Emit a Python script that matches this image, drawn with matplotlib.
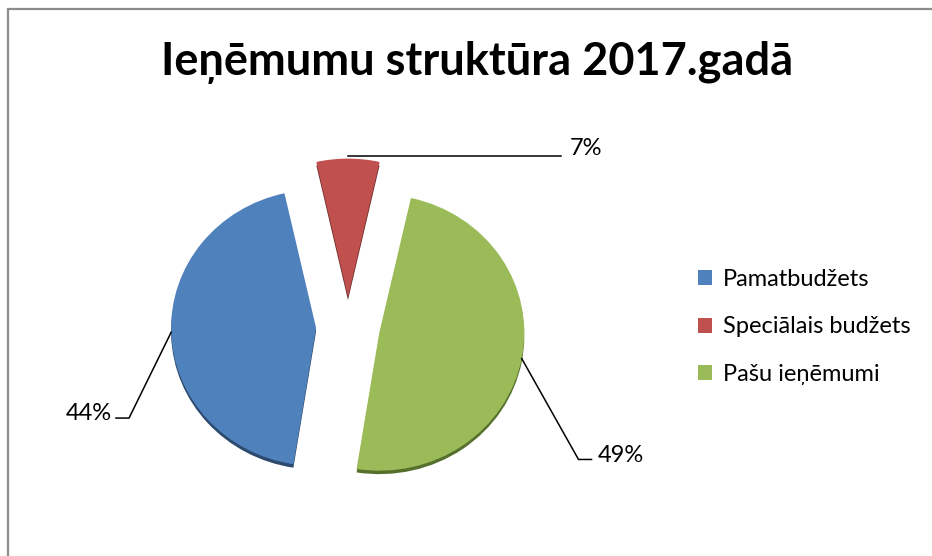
import numpy as np
import matplotlib.pyplot as plt
from matplotlib.patches import Patch, Rectangle

plt.rcParams['font.family'] = ['Lato', 'DejaVu Sans']

TITLE = "Ieņēmumu struktūra 2017.gadā"
categories = ["Pamatbudžets", "Speciālais budžets", "Pašu ieņēmumi"]
shares = [44, 7, 49]
colors = ["#4F81BD", "#C0504D", "#9BBB59"]
depth_colors = ["#2c4a6e", "#6e2b29", "#55702c"]
explode = [0.22, 0.22, 0.22]
START = 261

# where the percentage labels sit (data units of the pie axes)
label_pos = [(-1.63, -0.63), (1.53, 1.29), (1.72, -0.93)]
label_ha = ["right", "left", "left"]

fig = plt.figure(figsize=(9.32, 5.56), dpi=100)

# chart border (cut off at the right and bottom like the screenshot)
fig.patches.append(Rectangle((8 / 932, -0.1), 1.2, 1 - 9 / 556 + 0.1,
                             transform=fig.transFigure, fill=False,
                             edgecolor="#8c8c8c", linewidth=1.6))

fig.text(0.512, 0.888, TITLE, ha="center", va="center",
         fontsize=32.5, fontweight="bold", color="black")

ax = fig.add_axes([0.140, 0.0396, 0.4667, 0.7446])
ax.axis("off")

# thin dark rim below for the 3D look
ax.pie(shares, colors=depth_colors, explode=explode, startangle=START,
       counterclock=False, center=(0, -0.025), radius=1,
       wedgeprops=dict(linewidth=0))
wedges, _ = ax.pie(shares, colors=colors, explode=explode, startangle=START,
                   counterclock=False, radius=1,
                   wedgeprops=dict(linewidth=0))
ax.set_xlim(-1.5, 1.5)
ax.set_ylim(-1.5, 1.5)
ax.set_aspect("auto")

for w, val, (tx, ty), ha in zip(wedges, shares, label_pos, label_ha):
    mid = np.deg2rad((w.theta1 + w.theta2) / 2)
    cx, cy = w.center
    ax_pt = (cx + np.cos(mid), cy + np.sin(mid))
    if ha == "right":
        xs = [ax_pt[0], tx + 0.12, tx + 0.03]
        ys = [ax_pt[1], ty - 0.03, ty - 0.03]
    elif abs(ty - ax_pt[1]) < 0.2:
        xs = [ax_pt[0], tx - 0.06]
        ys = [ax_pt[1] + 0.02, ax_pt[1] + 0.02]
    else:
        xs = [ax_pt[0], tx - 0.13, tx - 0.04]
        ys = [ax_pt[1], ty - 0.03, ty - 0.03]
    ax.plot(xs, ys, color="black", linewidth=1.1, clip_on=False)
    ax.text(tx, ty, f"{val}%", ha=ha, va="center", fontsize=17, clip_on=False)

handles = [Patch(facecolor=c, edgecolor="none") for c in colors]
fig.legend(handles, categories, loc="center left",
           bbox_to_anchor=(0.749, 0.412), frameon=False, fontsize=17,
           handlelength=0.6, handleheight=0.6, handletextpad=0.45,
           labelspacing=1.12, borderaxespad=0, borderpad=0)

fig.savefig("out.png", dpi=100)
